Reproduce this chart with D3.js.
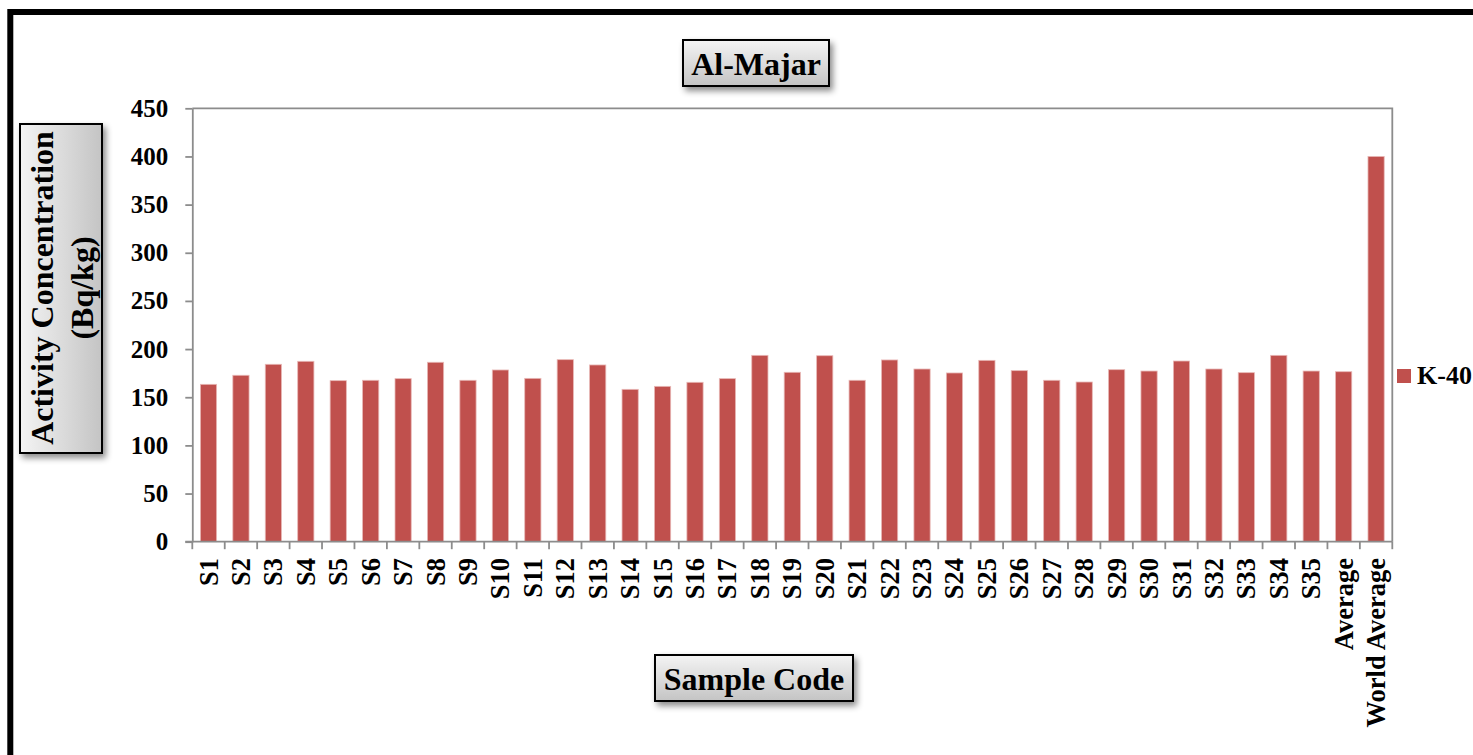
<!DOCTYPE html>
<html lang="en">
<head>
  <meta charset="utf-8">
  <title>Al-Majar K-40</title>
  <script src="https://cdn.jsdelivr.net/npm/d3@7"></script>
  <style>
    body { margin: 0; background: #fff; }
    text { font-family: "Liberation Serif", "Times New Roman", serif; font-weight: bold; fill: #000; }
  </style>
</head>
<body>
<div id="chart"></div>
<script>
// data
var categories = ["S1","S2","S3","S4","S5","S6","S7","S8","S9","S10",
  "S11","S12","S13","S14","S15","S16","S17","S18","S19","S20",
  "S21","S22","S23","S24","S25","S26","S27","S28","S29","S30",
  "S31","S32","S33","S34","S35","Average","World Average"];
var k40 = [163.4, 172.8, 184.2, 187.3, 167.2, 167.6, 169.3, 186.3, 167.6, 178.3,
  169.6, 189, 183.5, 158.2, 161.3, 165.5, 169.3, 193.5, 175.9, 193.1,
  167.6, 188.7, 179.3, 175.2, 188.3, 177.6, 167.6, 165.8, 178.6, 177.2,
  187.6, 179.3, 175.5, 193.5, 177.2, 176.5, 400];
var yTicks = [0, 50, 100, 150, 200, 250, 300, 350, 400, 450];
var seriesName = "K-40";

var width = 1473, height = 755;
var plotLeft = 192.3, plotRight = 1392.3, plotTop = 108.3, plotBottom = 541.7;
var barColor = "#c0504d";
var axisColor = "#8c8c8c";

var svg = d3.select("#chart").append("svg")
  .attr("width", width)
  .attr("height", height);

var defs = svg.append("defs");
// gradients for the label boxes
var gv = defs.append("linearGradient").attr("id", "gradV")
  .attr("x1", 0).attr("y1", 0).attr("x2", 0).attr("y2", 1);
gv.append("stop").attr("offset", "0%").attr("stop-color", "#f4f4f4");
gv.append("stop").attr("offset", "100%").attr("stop-color", "#c4c4c4");
var gh = defs.append("linearGradient").attr("id", "gradH")
  .attr("x1", 0).attr("y1", 0).attr("x2", 1).attr("y2", 0);
gh.append("stop").attr("offset", "0%").attr("stop-color", "#f4f4f4");
gh.append("stop").attr("offset", "100%").attr("stop-color", "#c4c4c4");
defs.append("filter").attr("id", "shadow")
  .attr("x", "-20%").attr("y", "-20%").attr("width", "150%").attr("height", "150%")
  .append("feDropShadow")
  .attr("dx", 3).attr("dy", 4).attr("stdDeviation", 3)
  .attr("flood-color", "#000").attr("flood-opacity", 0.45);

// outer black frame
svg.append("rect")
  .attr("x", 10.3).attr("y", 12)
  .attr("width", 1500).attr("height", 800)
  .attr("fill", "none")
  .attr("stroke", "#000")
  .attr("stroke-width", 6);

// scales
var x = d3.scaleBand()
  .domain(categories)
  .range([plotLeft, plotRight])
  .paddingInner(0.5)
  .paddingOuter(0.25);

var y = d3.scaleLinear()
  .domain([0, 450])
  .range([plotBottom, plotTop]);

// plot area border (top and right)
svg.append("path")
  .attr("d", "M" + plotLeft + "," + plotTop + "H" + plotRight + "V" + plotBottom)
  .attr("fill", "none")
  .attr("stroke", axisColor)
  .attr("stroke-width", 1.8);

// bars
svg.selectAll("rect.bar")
  .data(k40)
  .enter().append("rect")
  .attr("class", "bar")
  .attr("x", function(d, i) { return x(categories[i]); })
  .attr("y", function(d) { return y(d); })
  .attr("width", x.bandwidth())
  .attr("height", function(d) { return y(0) - y(d); })
  .attr("fill", barColor)
  .attr("stroke", "#e8b8b6")
  .attr("stroke-width", 0.8);

// y axis
var yAxis = svg.append("g")
  .attr("transform", "translate(" + plotLeft + ",0)")
  .call(d3.axisLeft(y).tickValues(yTicks).tickSize(7).tickPadding(17).tickSizeOuter(0));
yAxis.select(".domain").attr("stroke", axisColor).attr("stroke-width", 1.8);
yAxis.selectAll(".tick line").attr("stroke", axisColor).attr("stroke-width", 1.8);
yAxis.selectAll(".tick text")
  .attr("font-size", 25)
  .attr("font-family", "Liberation Serif, Times New Roman, serif")
  .attr("font-weight", "bold")
  .attr("fill", "#000");

// x axis line
svg.append("line")
  .attr("x1", plotLeft - 7).attr("x2", plotRight)
  .attr("y1", plotBottom).attr("y2", plotBottom)
  .attr("stroke", axisColor)
  .attr("stroke-width", 1.8);

// x ticks at category boundaries
var bounds = d3.range(categories.length + 1).map(function(i) { return plotLeft + i * x.step(); });
svg.selectAll("line.xtick")
  .data(bounds)
  .enter().append("line")
  .attr("class", "xtick")
  .attr("x1", function(d) { return d; })
  .attr("x2", function(d) { return d; })
  .attr("y1", plotBottom)
  .attr("y2", plotBottom + 7.5)
  .attr("stroke", axisColor)
  .attr("stroke-width", 1.8);

// x labels, rotated
svg.selectAll("text.xlab")
  .data(categories)
  .enter().append("text")
  .attr("class", "xlab")
  .attr("transform", function(d) {
    return "translate(" + (x(d) + x.bandwidth() / 2) + "," + 558 + ") rotate(-90)";
  })
  .attr("dy", "0.34em")
  .attr("text-anchor", "end")
  .attr("font-size", 26.5)
  .text(function(d) { return d; });

// title box
svg.append("rect")
  .attr("x", 683).attr("y", 40).attr("width", 146).attr("height", 46)
  .attr("fill", "url(#gradV)").attr("stroke", "#000").attr("stroke-width", 2)
  .attr("filter", "url(#shadow)");
svg.append("text")
  .attr("x", 756).attr("y", 75)
  .attr("text-anchor", "middle")
  .attr("font-size", 32)
  .text("Al-Majar");

// y title box
svg.append("rect")
  .attr("x", 20).attr("y", 124).attr("width", 82).attr("height", 329)
  .attr("fill", "url(#gradH)").attr("stroke", "#000").attr("stroke-width", 2)
  .attr("filter", "url(#shadow)");
svg.append("text")
  .attr("transform", "translate(53,288) rotate(-90)")
  .attr("text-anchor", "middle")
  .attr("font-size", 32)
  .text("Activity Concentration");
svg.append("text")
  .attr("transform", "translate(93,288) rotate(-90)")
  .attr("text-anchor", "middle")
  .attr("font-size", 32)
  .text("(Bq/kg)");

// x title box
svg.append("rect")
  .attr("x", 655).attr("y", 655).attr("width", 198).attr("height", 46)
  .attr("fill", "url(#gradV)").attr("stroke", "#000").attr("stroke-width", 2)
  .attr("filter", "url(#shadow)");
svg.append("text")
  .attr("x", 754).attr("y", 690)
  .attr("text-anchor", "middle")
  .attr("font-size", 32)
  .text("Sample Code");

// legend
svg.append("rect")
  .attr("x", 1397).attr("y", 369).attr("width", 14).attr("height", 14)
  .attr("fill", barColor);
svg.append("text")
  .attr("x", 1417).attr("y", 383.5)
  .attr("font-size", 26)
  .text(seriesName);
</script>
</body>
</html>
